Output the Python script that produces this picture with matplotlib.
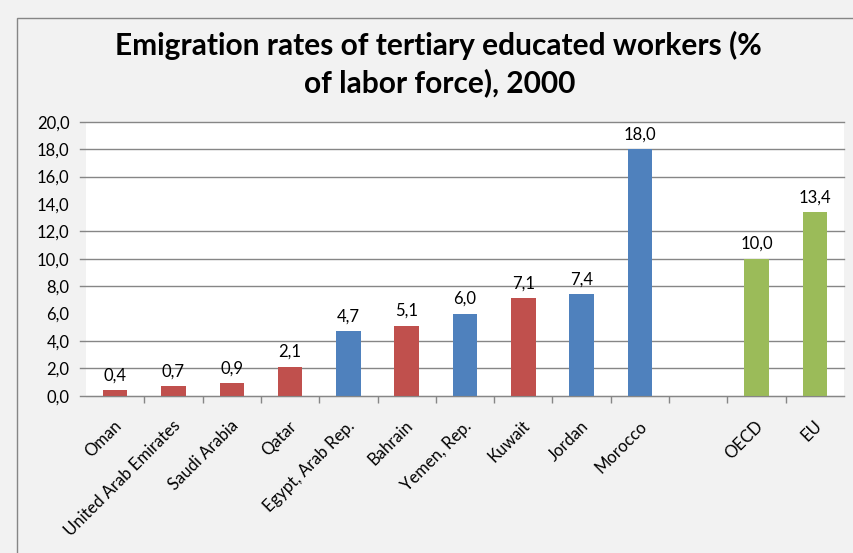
import matplotlib.pyplot as plt
from matplotlib.patches import Rectangle

plt.rcParams['font.family'] = ['Lato', 'DejaVu Sans']

# data (the empty string is the gap before OECD)
countries = ['Oman', 'United Arab Emirates', 'Saudi Arabia', 'Qatar',
             'Egypt, Arab Rep.', 'Bahrain', 'Yemen, Rep.', 'Kuwait',
             'Jordan', 'Morocco', '', 'OECD', 'EU']
rates = [0.4, 0.7, 0.9, 2.1, 4.7, 5.1, 6.0, 7.1, 7.4, 18.0, None, 10.0, 13.4]
groups = ['gcc', 'gcc', 'gcc', 'gcc', 'other', 'gcc', 'other', 'gcc',
          'other', 'other', None, 'ref', 'ref']

colors = {'gcc': '#C0504D', 'other': '#4F81BD', 'ref': '#9BBB59'}
grid_col = '#868686'
fs = 12

W, H = 854, 553
fig = plt.figure(figsize=(W / 100, H / 100), dpi=100)
fig.patch.set_facecolor('#F2F2F2')

# chart frame (only the left and top edges are inside the picture)
fig.add_artist(Rectangle((17 / W, -0.1), 1.2, (H - 18) / H + 0.1,
                         transform=fig.transFigure, fill=False,
                         edgecolor=grid_col, linewidth=1.0))

ax = fig.add_axes([86 / W, 1 - 395.7 / H, 758 / W, 274 / H])
ax.set_facecolor('white')

n = len(countries)
ax.set_xlim(-0.5, n - 0.5)
ax.set_ylim(0, 20)

for i, (v, g) in enumerate(zip(rates, groups)):
    if v is None:
        continue
    ax.bar(i, v, width=0.42, color=colors[g], zorder=3)
    ax.annotate(f'{v:.1f}'.replace('.', ','), (i, v), xytext=(0, 5),
                textcoords='offset points', ha='center', va='bottom',
                fontsize=fs, color='black')

# gridlines (the 6 and 14 lines are not visible in the source image)
yt = list(range(0, 21, 2))
for y in yt:
    if y in (6, 14):
        continue
    ax.axhline(y, xmin=-6 / 758, xmax=1, color=grid_col, linewidth=1.0,
               clip_on=False, zorder=1)

ax.set_yticks(yt)
ax.set_yticklabels([f'{y:.1f}'.replace('.', ',') for y in yt])
ax.tick_params(axis='y', length=0, pad=12, labelsize=fs, colors='black')

for s in ['top', 'right', 'left']:
    ax.spines[s].set_visible(False)
ax.spines['bottom'].set_color(grid_col)
ax.spines['bottom'].set_zorder(4)

ax.set_xticks([i + 0.5 for i in range(n - 1)])
ax.set_xticklabels([])
ax.tick_params(axis='x', length=5, width=1.0, color=grid_col, direction='out')

for i, name in enumerate(countries):
    if not name:
        continue
    ax.annotate(name, (i, 0), xytext=(3, -20), textcoords='offset points',
                ha='right', va='center', rotation=45, rotation_mode='anchor',
                fontsize=fs, color='black', annotation_clip=False)

fig.text(438 / W, 1 - 45 / H, 'Emigration rates of tertiary educated workers (%',
         ha='center', va='center', fontsize=21.5, fontweight='bold')
fig.text(440 / W, 1 - 83 / H, 'of labor force), 2000',
         ha='center', va='center', fontsize=21.5, fontweight='bold')

fig.savefig('out.png', dpi=100, facecolor=fig.get_facecolor())
